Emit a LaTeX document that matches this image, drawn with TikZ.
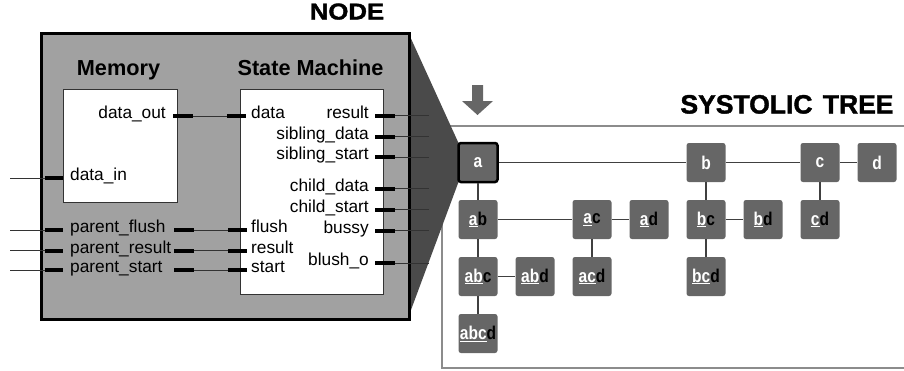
\documentclass[tikz,border=0pt]{standalone}
\usepackage{fontspec}
\setmainfont{Liberation Sans}
\usepackage{graphicx}
\definecolor{boxgray}{gray}{0.63}
\definecolor{darkpoly}{gray}{0.29}
\definecolor{tgray}{gray}{0.40}
\definecolor{framegray}{gray}{0.55}
\newcommand\treelab[2]{\scalebox{0.84}[1]{\textcolor{white}{\underline{#1}}\textcolor{black}{#2}}}
\newcommand\treeone[1]{\scalebox{0.84}[1]{#1}}
\begin{document}
\begin{tikzpicture}[x=1pt,y=-1pt,
  portlab/.style={inner sep=0pt, font=\fontsize{17.3}{20}\selectfont},
  headlab/.style={inner sep=0pt, font=\fontsize{21.7}{24}\selectfont\bfseries, anchor=base},
  pinstub/.style={line width=4pt, draw=black},
  wire/.style={line width=0.9pt, draw=black!80},
  tnode/.style={fill=tgray, rounded corners=2.5pt, minimum width=39pt, minimum height=39pt, inner sep=0pt, font=\fontsize{18.5}{18.5}\selectfont\bfseries, text=white},
  tedge/.style={line width=1.3pt, draw=black!75},
]
\useasboundingbox (0,0) rectangle (904,370);
% systolic tree frame
\draw[framegray, line width=1.3pt] (906,126) -- (442,126) -- (442,368) -- (906,368);
% projection polygon
\fill[darkpoly] (408,32) -- (458.5,143) -- (458.5,182) -- (408,318) -- cycle;
% outer NODE box
\node[draw=black, line width=3pt, fill=boxgray, minimum width=368pt, minimum height=286pt, inner sep=0pt, anchor=north west] (outer) at (40,32) {};
\node[draw=black!80, line width=0.8pt, fill=white, minimum width=114pt, minimum height=113pt, inner sep=0pt, anchor=north west] (mem) at (63,89) {};
\node[draw=black!80, line width=0.8pt, fill=white, minimum width=143pt, minimum height=205pt, inner sep=0pt, anchor=north west] (sm) at (240,89) {};
% headings
\node[headlab] (memlab) at (118.5,75) {Memory};
\node[headlab] (smlab) at (310.5,75) {State Machine};
\node[inner sep=0pt, anchor=base, font=\fontsize{23}{26}\selectfont\bfseries] (nodelab) at (347,19.5) {\addfontfeature{FakeBold=1.5}\scalebox{1.12}[1]{NODE}};
\node[inner sep=0pt, anchor=base, font=\fontsize{26.5}{30}\selectfont\bfseries] (treelabel) at (787,113.5) {\addfontfeature{FakeBold=1.5}SYSTOLIC\hspace{3pt} TREE};
% memory -> state machine data
\coordinate (do1) at (173,116); \coordinate (do2) at (193,116);
\coordinate (di1) at (227,116); \coordinate (di2) at (246,116);
\draw[wire] (do2) -- (di1);
\draw[pinstub] (do1) -- (do2);
\draw[pinstub] (di1) -- (di2);
\node[portlab, anchor=mid east] (ldataout) at (166,116) {data\_out};
\node[portlab, anchor=mid west] (ldata) at (251,116) {data};
% data_in
\coordinate (dinA) at (10,178); \coordinate (dinB) at (45,178); \coordinate (dinC) at (63,178);
\draw[wire] (dinA) -- (dinB);
\draw[pinstub] (dinB) -- (dinC);
\node[portlab, anchor=mid west] (ldatain) at (70,178) {data\_in};
% parent ports
\foreach \nm/\yy/\pl/\sl in {pf/230/parent\_flush/flush, pr/250.5/parent\_result/result, ps/270/parent\_start/start}{
  \coordinate (\nm-a) at (10,\yy);
  \coordinate (\nm-b) at (45,\yy);
  \coordinate (\nm-c) at (63,\yy);
  \coordinate (\nm-d) at (174,\yy);
  \coordinate (\nm-e) at (194,\yy);
  \coordinate (\nm-f) at (228,\yy);
  \coordinate (\nm-g) at (247,\yy);
  \draw[wire] (\nm-a) -- (\nm-b);
  \draw[pinstub] (\nm-b) -- (\nm-c);
  \draw[wire] (\nm-e) -- (\nm-f);
  \draw[pinstub] (\nm-d) -- (\nm-e);
  \draw[pinstub] (\nm-f) -- (\nm-g);
  \node[portlab, anchor=mid west] (\nm-l1) at (70,\yy) {\pl};
  \node[portlab, anchor=mid west] (\nm-l2) at (251,\yy) {\sl};
}
% state machine right ports
\foreach \nm/\yy/\pl in {ro/115.5/result, sd/136.5/sibling\_data, ss/157/sibling\_start, cdat/188.5/child\_data, cst/209.5/child\_start, bu/230.5/bussy, bo/263/blush\_o}{
  \coordinate (\nm-a) at (375,\yy);
  \coordinate (\nm-b) at (395,\yy);
  \coordinate (\nm-c) at (429,\yy);
  \draw[wire] (\nm-b) -- (\nm-c);
  \draw[pinstub] (\nm-a) -- (\nm-b);
  \node[portlab, anchor=mid east] (\nm-l) at (369,\yy) {\pl};
}
% systolic tree nodes
\node[tnode, draw=black, line width=2.5pt] (a) at (478,162.5) {\treeone{a}};
\node[tnode] (b) at (706,162.5) {\treeone{b}};
\node[tnode] (c) at (820,162.5) {\treeone{c}};
\node[tnode] (d) at (877,162.5) {\treeone{d}};
\node[tnode] (ab) at (478,219.5) {\treelab{a}{b}};
\node[tnode] (ac) at (592,219.5) {\treelab{a}{c}};
\node[tnode] (ad) at (649,219.5) {\treelab{a}{d}};
\node[tnode] (bc) at (706,219.5) {\treelab{b}{c}};
\node[tnode] (bd) at (763,219.5) {\treelab{b}{d}};
\node[tnode] (cd) at (820,219.5) {\treelab{c}{d}};
\node[tnode] (abc) at (478,276.5) {\treelab{ab}{c}};
\node[tnode] (abd) at (535,276.5) {\treelab{ab}{d}};
\node[tnode] (acd) at (592,276.5) {\treelab{ac}{d}};
\node[tnode] (bcd) at (706,276.5) {\treelab{bc}{d}};
\node[tnode] (abcd) at (478,333.5) {\treelab{abc}{d}};
\foreach \u/\v in {a/b, b/c, c/d, a/ab, b/bc, c/cd, ab/ac, ac/ad, bc/bd, ab/abc, ac/acd, bc/bcd, abc/abd, abc/abcd}{
  \draw[tedge] (\u) -- (\v);
}
% input arrow
\fill[tgray] (472,85) -- (483,85) -- (483,101) -- (493,101) -- (477.5,115) -- (462,101) -- (472,101) -- cycle;
\end{tikzpicture}
\end{document}
